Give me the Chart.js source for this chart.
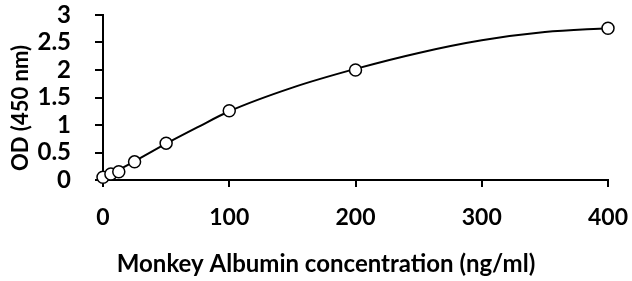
<!DOCTYPE html>
<html>
<head>
<meta charset="utf-8">
<script src="https://cdn.jsdelivr.net/npm/chart.js@4"></script>
<style>
  html, body { margin: 0; padding: 0; background: #fff; }
  #wrap { width: 632px; height: 281px; }
</style>
</head>
<body>
<div id="wrap"><canvas id="stdCurve" width="632" height="281"></canvas></div>
<script>
// measured standards
const concentrations = [0, 6.25, 12.5, 25, 50, 100, 200, 400];
const odValues = [0.05, 0.11, 0.15, 0.33, 0.67, 1.26, 2.0, 2.76];

// fitted curve
const curveX = [0, 25, 50, 75, 100, 150, 200, 250, 300, 350, 400];
const curveY = [0.03, 0.34, 0.66, 0.96, 1.25, 1.68, 2.02, 2.31, 2.54, 2.69, 2.76];

const xTicks = [0, 100, 200, 300, 400];
const yTicks = [0, 0.5, 1, 1.5, 2, 2.5, 3];

const xTitle = 'Monkey Albumin concentration (ng/ml)';
const yTitle = 'OD (450 nm)';

const fontFamily = 'Lato, "Open Sans", sans-serif';

// axis titles sit a bit off-centre in the original, so draw them by hand
const axisTitles = {
    id: 'axisTitles',
    afterDraw(chart) {
        const c = chart.ctx;
        c.save();
        c.fillStyle = '#000';
        c.textAlign = 'center';
        c.textBaseline = 'middle';
        c.font = 'bold 24px ' + fontFamily;
        c.fillText(xTitle, 326, 264);
        c.translate(21, 108);
        c.rotate(-Math.PI / 2);
        c.font = 'bold 22px ' + fontFamily;
        c.fillText(yTitle, 0, 0);
        c.restore();
    }
};

// keep label overhang from pushing the plot area around
const noOverhang = axis => {
    axis.paddingLeft = 0;
    axis.paddingRight = 0;
    axis.paddingTop = 0;
    axis.paddingBottom = 0;
};

const ctx = document.getElementById('stdCurve').getContext('2d');
new Chart(ctx, {
    type: 'scatter',
    data: {
        datasets: [
            {
                label: 'Standards',
                data: concentrations.map((c, i) => ({ x: c, y: odValues[i] })),
                showLine: false,
                pointRadius: 6,
                pointBorderWidth: 1.5,
                pointBorderColor: '#000',
                pointBackgroundColor: '#fff',
                clip: false,
                order: 0
            },
            {
                label: 'Fit',
                data: curveX.map((c, i) => ({ x: c, y: curveY[i] })),
                showLine: true,
                borderColor: '#000',
                borderWidth: 2,
                pointRadius: 0,
                cubicInterpolationMode: 'monotone',
                clip: false,
                order: 1
            }
        ]
    },
    options: {
        responsive: false,
        animation: false,
        layout: { padding: { left: 0, right: 24, top: 15, bottom: 0 } },
        plugins: {
            legend: { display: false },
            tooltip: { enabled: false }
        },
        scales: {
            x: {
                type: 'linear',
                min: 0,
                max: 400,
                afterBuildTicks: axis => { axis.ticks = xTicks.map(v => ({ value: v })); },
                afterFit: axis => { axis.height = 101; noOverhang(axis); },
                grid: { drawOnChartArea: false, tickLength: 7, color: '#000', lineWidth: 2 },
                border: { color: '#000', width: 2 },
                ticks: {
                    color: '#000',
                    padding: 17,
                    autoSkip: false,
                    maxRotation: 0,
                    callback: v => String(v),
                    font: { family: fontFamily, size: 23, weight: 'bold' }
                }
            },
            y: {
                type: 'linear',
                min: 0,
                max: 3,
                afterBuildTicks: axis => { axis.ticks = yTicks.map(v => ({ value: v })); },
                afterFit: axis => { axis.width = 103; noOverhang(axis); },
                grid: { drawOnChartArea: false, tickLength: 8, color: '#000', lineWidth: 2 },
                border: { color: '#000', width: 2 },
                ticks: {
                    color: '#000',
                    padding: 24,
                    autoSkip: false,
                    callback: v => String(v),
                    font: { family: fontFamily, size: 24, weight: 'bold' }
                }
            }
        }
    },
    plugins: [axisTitles]
});
</script>
</body>
</html>
